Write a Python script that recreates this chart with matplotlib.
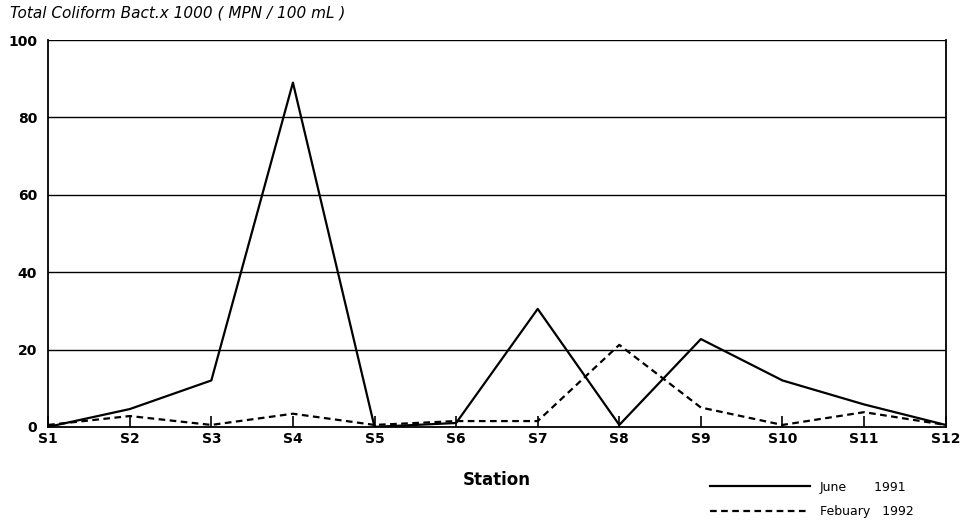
import numpy as np
import matplotlib.pyplot as plt

# Stations and coliform counts (x 1000 MPN/100 mL)
stations = ["S1", "S2", "S3", "S4", "S5", "S6", "S7", "S8", "S9", "S10", "S11", "S12"]
june_1991 = [0, 4.6, 12, 89, 0, 1, 30.5, 0.5, 22.7, 12, 5.8, 0.5]
feb_1992 = [0.5, 2.8, 0.5, 3.4, 0.5, 1.5, 1.5, 21.2, 5, 0.5, 3.8, 0.5]
y_ticks = [0, 20, 40, 60, 80, 100]

x = np.arange(len(stations))

fig = plt.figure(figsize=(9.63, 5.27), dpi=100)
ax = fig.add_axes([0.05, 0.19, 0.932, 0.734])

ax.plot(x, june_1991, color="black", lw=1.6, label="June       1991")
ax.plot(x, feb_1992, color="black", lw=1.6, ls=(0, (3, 2)), label="Febuary   1992")

for y in y_ticks[1:]:
    ax.axhline(y, color="black", lw=1.0)

ax.set_xlim(0, len(stations) - 1)
ax.set_ylim(0, 100)
ax.set_xticks(x)
ax.set_xticklabels(stations, fontsize=10, fontweight="bold")
ax.set_yticks(y_ticks)
ax.set_yticklabels([str(v) for v in y_ticks], fontsize=10, fontweight="bold")
ax.tick_params(axis="x", direction="in", length=8, width=1.2, pad=4)
ax.tick_params(axis="y", length=0, pad=8)
ax.spines["top"].set_visible(False)
for s in ["left", "right", "bottom"]:
    ax.spines[s].set_linewidth(1.3)

ax.set_xlabel("Station", fontsize=12, fontweight="bold", labelpad=18)
fig.text(0.01, 0.975, "Total Coliform Bact.x 1000 ( MPN / 100 mL )", fontsize=11,
         style="italic", ha="left", va="center")

ax.legend(loc="upper left", bbox_to_anchor=(0.725, -0.11), frameon=False,
          fontsize=9, handlelength=8, labelspacing=0.9)

plt.savefig("out.png", dpi=100)
